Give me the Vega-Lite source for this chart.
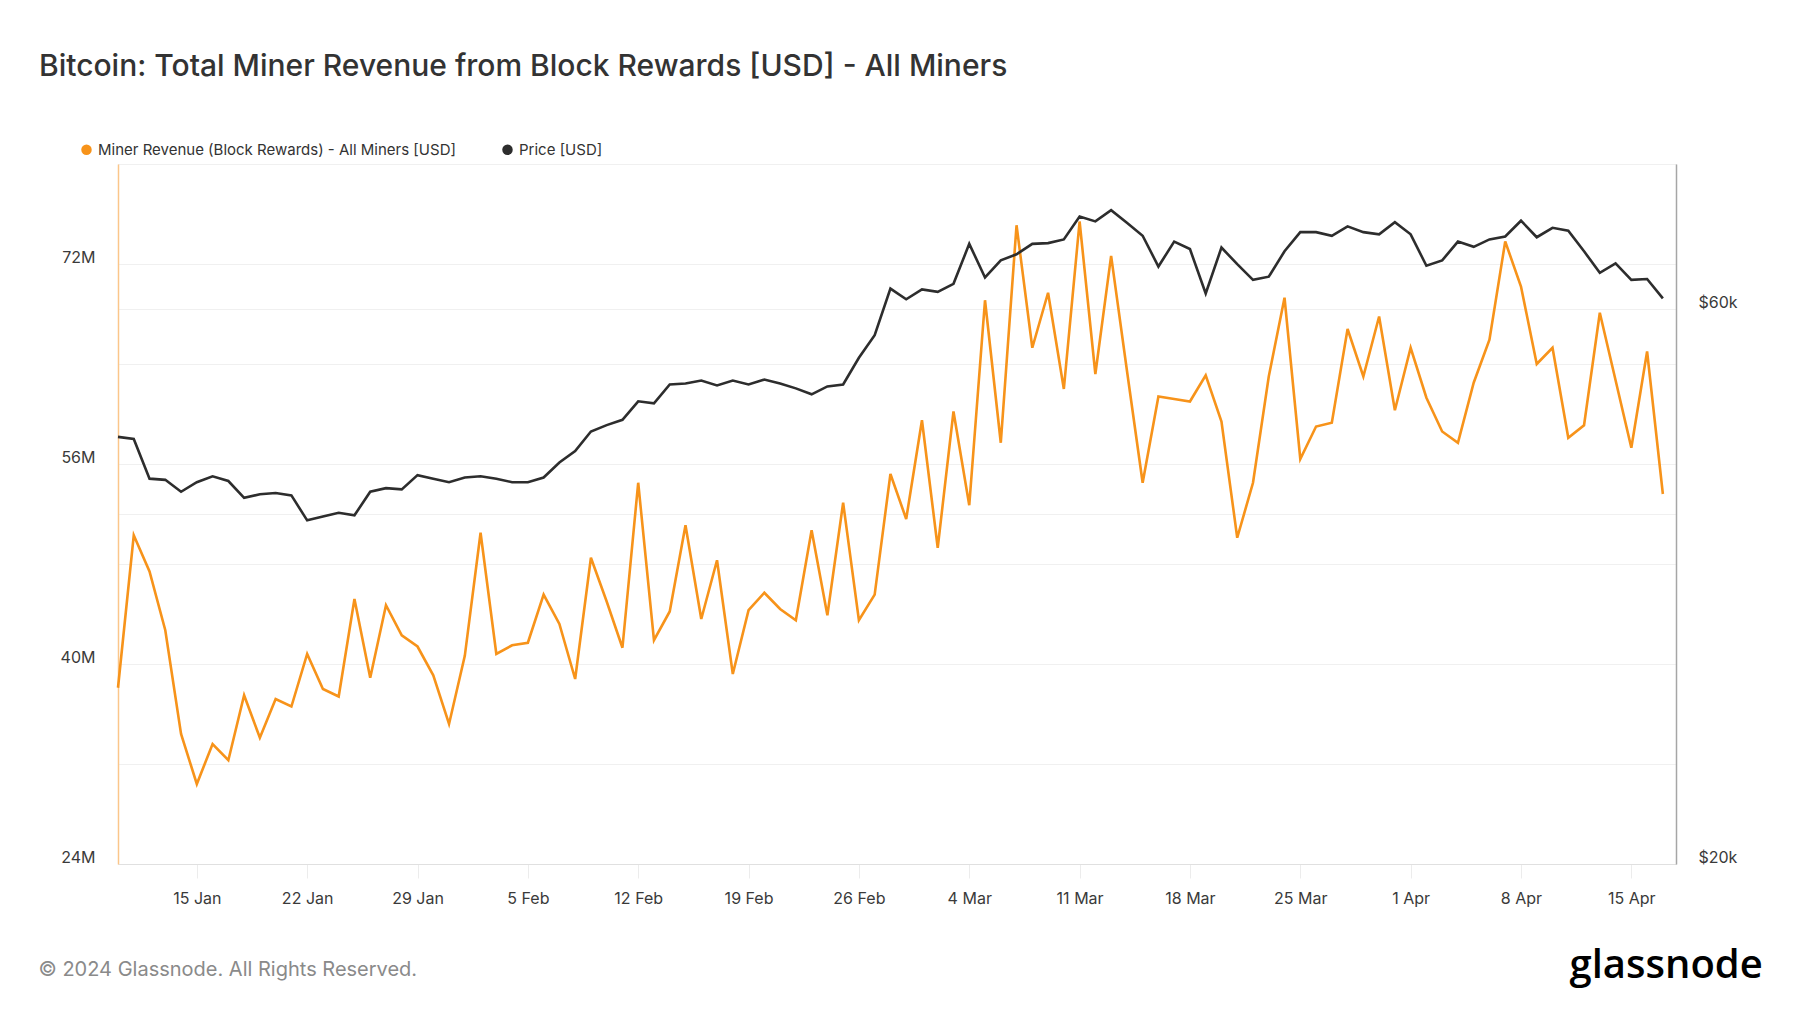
{
  "$schema": "https://vega.github.io/schema/vega-lite/v6.json",
  "width": 1558,
  "height": 700,
  "autosize": {"type": "none"},
  "padding": {"left": 118, "top": 164, "right": 124, "bottom": 149},
  "background": "white",
  "title": {
    "text": "Bitcoin: Total Miner Revenue from Block Rewards [USD] - All Miners",
    "anchor": "start",
    "frame": "group",
    "font": "Inter",
    "fontSize": 30,
    "fontWeight": 500,
    "color": "#333333",
    "baseline": "alphabetic",
    "dx": -79,
    "offset": 36
  },
  "config": {
    "view": {"stroke": "#e6e6e6", "strokeWidth": 1},
    "axis": {"labelFont": "Inter", "labelFontSize": 16, "labelColor": "#3a3a3a", "gridColor": "#f0f0f0", "gridWidth": 1}
  },
  "data": {
    "values": [
      {"date": "2024-01-10", "revenue": 38100000, "price": 46600},
      {"date": "2024-01-11", "revenue": 50300000, "price": 46400},
      {"date": "2024-01-12", "revenue": 47400000, "price": 42900},
      {"date": "2024-01-13", "revenue": 42700000, "price": 42800},
      {"date": "2024-01-14", "revenue": 34400000, "price": 41800},
      {"date": "2024-01-15", "revenue": 30400000, "price": 42600},
      {"date": "2024-01-16", "revenue": 33600000, "price": 43100},
      {"date": "2024-01-17", "revenue": 32300000, "price": 42700},
      {"date": "2024-01-18", "revenue": 37500000, "price": 41300},
      {"date": "2024-01-19", "revenue": 34100000, "price": 41600},
      {"date": "2024-01-20", "revenue": 37200000, "price": 41700},
      {"date": "2024-01-21", "revenue": 36600000, "price": 41500},
      {"date": "2024-01-22", "revenue": 40800000, "price": 39500},
      {"date": "2024-01-23", "revenue": 38000000, "price": 39800},
      {"date": "2024-01-24", "revenue": 37400000, "price": 40100},
      {"date": "2024-01-25", "revenue": 45200000, "price": 39900},
      {"date": "2024-01-26", "revenue": 38900000, "price": 41800},
      {"date": "2024-01-27", "revenue": 44700000, "price": 42100},
      {"date": "2024-01-28", "revenue": 42300000, "price": 42000},
      {"date": "2024-01-29", "revenue": 41400000, "price": 43200},
      {"date": "2024-01-30", "revenue": 39100000, "price": 42900},
      {"date": "2024-01-31", "revenue": 35200000, "price": 42600},
      {"date": "2024-02-01", "revenue": 40650000, "price": 43000},
      {"date": "2024-02-02", "revenue": 50500000, "price": 43100},
      {"date": "2024-02-03", "revenue": 40800000, "price": 42900},
      {"date": "2024-02-04", "revenue": 41500000, "price": 42600},
      {"date": "2024-02-05", "revenue": 41700000, "price": 42600},
      {"date": "2024-02-06", "revenue": 45550000, "price": 43000},
      {"date": "2024-02-07", "revenue": 43200000, "price": 44300},
      {"date": "2024-02-08", "revenue": 38800000, "price": 45300},
      {"date": "2024-02-09", "revenue": 48500000, "price": 47100},
      {"date": "2024-02-10", "revenue": 45000000, "price": 47700},
      {"date": "2024-02-11", "revenue": 41300000, "price": 48200},
      {"date": "2024-02-12", "revenue": 54500000, "price": 50000},
      {"date": "2024-02-13", "revenue": 41900000, "price": 49800},
      {"date": "2024-02-14", "revenue": 44200000, "price": 51700},
      {"date": "2024-02-15", "revenue": 51100000, "price": 51800},
      {"date": "2024-02-16", "revenue": 43600000, "price": 52100},
      {"date": "2024-02-17", "revenue": 48300000, "price": 51600},
      {"date": "2024-02-18", "revenue": 39200000, "price": 52100},
      {"date": "2024-02-19", "revenue": 44300000, "price": 51700},
      {"date": "2024-02-20", "revenue": 45700000, "price": 52200},
      {"date": "2024-02-21", "revenue": 44400000, "price": 51800},
      {"date": "2024-02-22", "revenue": 43500000, "price": 51300},
      {"date": "2024-02-23", "revenue": 50700000, "price": 50700},
      {"date": "2024-02-24", "revenue": 43900000, "price": 51500},
      {"date": "2024-02-25", "revenue": 52900000, "price": 51700},
      {"date": "2024-02-26", "revenue": 43500000, "price": 54500},
      {"date": "2024-02-27", "revenue": 45550000, "price": 57000},
      {"date": "2024-02-28", "revenue": 55200000, "price": 62500},
      {"date": "2024-02-29", "revenue": 51600000, "price": 61200},
      {"date": "2024-03-01", "revenue": 59500000, "price": 62400},
      {"date": "2024-03-02", "revenue": 49300000, "price": 62100},
      {"date": "2024-03-03", "revenue": 60200000, "price": 63100},
      {"date": "2024-03-04", "revenue": 52700000, "price": 68300},
      {"date": "2024-03-05", "revenue": 69100000, "price": 63900},
      {"date": "2024-03-06", "revenue": 57700000, "price": 66100},
      {"date": "2024-03-07", "revenue": 75100000, "price": 66900},
      {"date": "2024-03-08", "revenue": 65300000, "price": 68300},
      {"date": "2024-03-09", "revenue": 69700000, "price": 68400},
      {"date": "2024-03-10", "revenue": 62000000, "price": 68900},
      {"date": "2024-03-11", "revenue": 75400000, "price": 72100},
      {"date": "2024-03-12", "revenue": 63200000, "price": 71400},
      {"date": "2024-03-13", "revenue": 72650000, "price": 73000},
      {"date": "2024-03-14", "revenue": 63500000, "price": 71200},
      {"date": "2024-03-15", "revenue": 54500000, "price": 69400},
      {"date": "2024-03-16", "revenue": 61400000, "price": 65300},
      {"date": "2024-03-17", "revenue": 61200000, "price": 68600},
      {"date": "2024-03-18", "revenue": 61000000, "price": 67600},
      {"date": "2024-03-19", "revenue": 63100000, "price": 61900},
      {"date": "2024-03-20", "revenue": 59400000, "price": 67800},
      {"date": "2024-03-21", "revenue": 50100000, "price": 65600},
      {"date": "2024-03-22", "revenue": 54500000, "price": 63600},
      {"date": "2024-03-23", "revenue": 63000000, "price": 64000},
      {"date": "2024-03-24", "revenue": 69300000, "price": 67300},
      {"date": "2024-03-25", "revenue": 56400000, "price": 69900},
      {"date": "2024-03-26", "revenue": 59000000, "price": 69900},
      {"date": "2024-03-27", "revenue": 59300000, "price": 69400},
      {"date": "2024-03-28", "revenue": 66800000, "price": 70700},
      {"date": "2024-03-29", "revenue": 63000000, "price": 69900},
      {"date": "2024-03-30", "revenue": 67800000, "price": 69600},
      {"date": "2024-03-31", "revenue": 60300000, "price": 71300},
      {"date": "2024-04-01", "revenue": 65300000, "price": 69600},
      {"date": "2024-04-02", "revenue": 61300000, "price": 65400},
      {"date": "2024-04-03", "revenue": 58600000, "price": 66100},
      {"date": "2024-04-04", "revenue": 57700000, "price": 68600},
      {"date": "2024-04-05", "revenue": 62500000, "price": 67900},
      {"date": "2024-04-06", "revenue": 65950000, "price": 68900},
      {"date": "2024-04-07", "revenue": 73800000, "price": 69300},
      {"date": "2024-04-08", "revenue": 70200000, "price": 71500},
      {"date": "2024-04-09", "revenue": 64000000, "price": 69200},
      {"date": "2024-04-10", "revenue": 65300000, "price": 70500},
      {"date": "2024-04-11", "revenue": 58100000, "price": 70100},
      {"date": "2024-04-12", "revenue": 59100000, "price": 67300},
      {"date": "2024-04-13", "revenue": 68100000, "price": 64500},
      {"date": "2024-04-14", "revenue": 62700000, "price": 65700},
      {"date": "2024-04-15", "revenue": 57300000, "price": 63600},
      {"date": "2024-04-16", "revenue": 65000000, "price": 63700},
      {"date": "2024-04-17", "revenue": 53600000, "price": 61300}
    ]
  },
  "encoding": {
    "x": {
      "field": "date",
      "type": "temporal",
      "scale": {
        "type": "utc",
        "domain": [
          {"year": 2024, "month": 1, "date": 10, "utc": true},
          {"year": 2024, "month": 4, "date": 17, "hours": 20, "utc": true}
        ]
      },
      "axis": {
        "values": [
          {"year": 2024, "month": 1, "date": 15, "utc": true},
          {"year": 2024, "month": 1, "date": 22, "utc": true},
          {"year": 2024, "month": 1, "date": 29, "utc": true},
          {"year": 2024, "month": 2, "date": 5, "utc": true},
          {"year": 2024, "month": 2, "date": 12, "utc": true},
          {"year": 2024, "month": 2, "date": 19, "utc": true},
          {"year": 2024, "month": 2, "date": 26, "utc": true},
          {"year": 2024, "month": 3, "date": 4, "utc": true},
          {"year": 2024, "month": 3, "date": 11, "utc": true},
          {"year": 2024, "month": 3, "date": 18, "utc": true},
          {"year": 2024, "month": 3, "date": 25, "utc": true},
          {"year": 2024, "month": 4, "date": 1, "utc": true},
          {"year": 2024, "month": 4, "date": 8, "utc": true},
          {"year": 2024, "month": 4, "date": 15, "utc": true}
        ],
        "labelExpr": "utcFormat(datum.value, '%-d %b')",
        "grid": false,
        "ticks": true,
        "tickSize": 14,
        "tickColor": "#ececec",
        "domainColor": "#e0e0e0",
        "labelPadding": 12,
        "labelBaseline": "top",
        "title": "© 2024 Glassnode. All Rights Reserved.",
        "titleFont": "Inter",
        "titleFontSize": 20,
        "titleFontWeight": "normal",
        "titleColor": "#8a8a8a",
        "titleAlign": "left",
        "titleAnchor": "start",
        "titleBaseline": "alphabetic",
        "titleX": -80,
        "titleY": 111
      }
    }
  },
  "layer": [
    {
      "mark": {"type": "line", "color": "#f7931a", "strokeWidth": 2.6},
      "encoding": {
        "y": {
          "field": "revenue",
          "type": "quantitative",
          "scale": {"domain": [24000000, 80000000], "nice": false, "zero": false},
          "axis": {
            "orient": "left",
            "title": null,
            "values": [24000000, 32000000, 40000000, 48000000, 56000000, 64000000, 72000000, 80000000],
            "labelExpr": "datum.value % 16000000 == 8000000 ? format(datum.value / 1000000, 'd') + 'M' : ''",
            "grid": true,
            "ticks": false,
            "domainColor": "#fbc68a",
            "domainWidth": 1.5,
            "labelPadding": 23,
            "labelBaseline": "alphabetic",
            "labelOffset": -2
          }
        },
        "color": {
          "datum": "Miner Revenue (Block Rewards) - All Miners [USD]",
          "type": "nominal",
          "scale": {
            "domain": ["Miner Revenue (Block Rewards) - All Miners [USD]", "Price [USD]"],
            "range": ["#f7931a", "#2d2d2d"]
          },
          "legend": {
            "title": null,
            "orient": "none",
            "legendX": -39,
            "legendY": -22,
            "direction": "horizontal",
            "symbolType": "circle",
            "symbolSize": 110,
            "symbolStrokeWidth": 0,
            "labelFont": "Inter",
            "labelFontSize": 15,
            "labelColor": "#333333",
            "labelLimit": 0,
            "labelOffset": 4,
            "columnPadding": 44,
            "encode": {
              "symbols": {"update": {"fill": {"scale": "color", "field": "value"}, "fillOpacity": {"value": 1}}}
            }
          }
        }
      }
    },
    {
      "mark": {"type": "line", "color": "#2d2d2d", "strokeWidth": 2.6},
      "encoding": {
        "y": {
          "field": "price",
          "type": "quantitative",
          "scale": {"type": "log", "domain": [20000, 80000], "nice": false},
          "axis": {
            "orient": "right",
            "values": [20000, 40000, 60000],
            "labelExpr": "datum.value == 40000 ? '' : '$' + format(datum.value / 1000, 'd') + 'k'",
            "grid": true,
            "ticks": false,
            "domainColor": "#a6a6a6",
            "domainWidth": 1.5,
            "labelPadding": 22,
            "labelBaseline": "alphabetic",
            "labelOffset": -2,
            "title": "glassnode",
            "titleFont": "Open Sans",
            "titleFontSize": 40,
            "titleFontWeight": 600,
            "titleColor": "#000000",
            "titleAngle": 0,
            "titleAlign": "left",
            "titleBaseline": "alphabetic",
            "titleX": -107,
            "titleY": 813
          }
        },
        "color": {"datum": "Price [USD]", "type": "nominal"}
      }
    }
  ],
  "resolve": {"scale": {"y": "independent"}}
}
